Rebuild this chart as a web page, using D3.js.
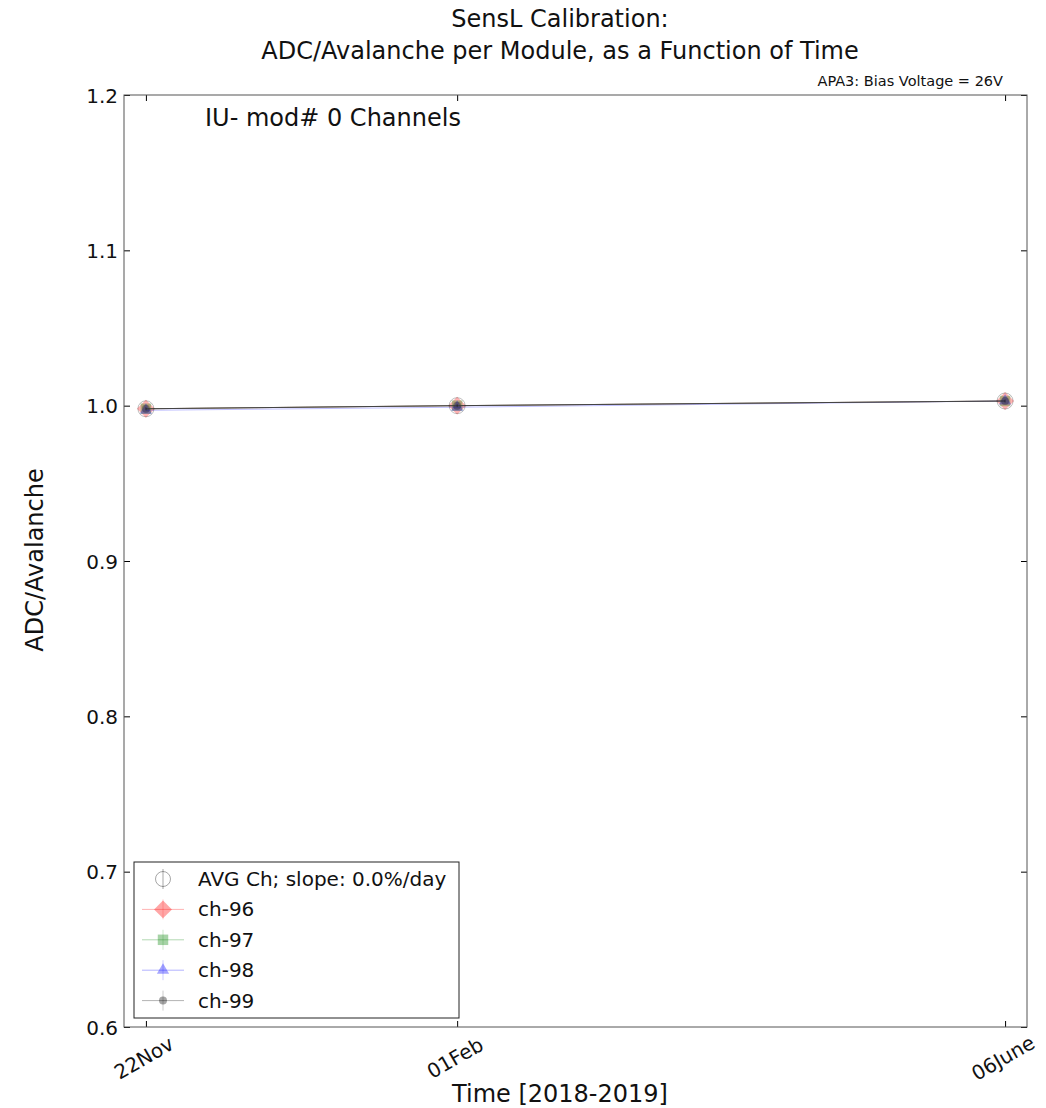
<!DOCTYPE html>
<html>
<head>
<meta charset="utf-8">
<script src="https://cdn.jsdelivr.net/npm/d3@7"></script>
<style>
  body { margin: 0; background: #fff; }
  svg text { font-family: "DejaVu Sans", sans-serif; fill: #111; }
</style>
</head>
<body>
<div id="chart"></div>
<script>
// measurement dates and tick labels
const dates = ["2018-11-22", "2019-02-01", "2019-06-06"];
const tickLabels = ["22Nov", "01Feb", "06June"];
const yTicks = [0.6, 0.7, 0.8, 0.9, 1.0, 1.1, 1.2];

// per-channel ADC/Avalanche values
const channels = ["ch-96", "ch-97", "ch-98", "ch-99"];
const ch96 = [0.998, 1.000, 1.003];
const ch97 = [0.998, 1.000, 1.003];
const ch98 = [0.997, 0.999, 1.003];
const ch99 = [0.998, 1.000, 1.003];
const avg = [0.998, 1.000, 1.003];
const avgErr = [0.001, 0.001, 0.001];

const width = 1046, height = 1108;
const margin = { top: 95, right: 19, bottom: 81, left: 124 };
const W = width - margin.left - margin.right;
const H = height - margin.top - margin.bottom;

const parse = d3.timeParse("%Y-%m-%d");
const xDates = dates.map(parse);

const svg = d3.select("#chart").append("svg")
  .attr("width", width).attr("height", height);

const g = svg.append("g")
  .attr("transform", `translate(${margin.left},${margin.top})`);

const x = d3.scaleTime()
  .domain([parse("2018-11-17"), parse("2019-06-11")])
  .range([0, W]);
const y = d3.scaleLinear().domain([0.6, 1.2]).range([H, 0]);

// axes (ticks pointing inwards, mirrored on both sides)
const fmt = d3.format(".1f");
const yLeft = g.append("g")
  .call(d3.axisLeft(y).tickValues(yTicks).tickFormat(fmt).tickSizeInner(-6).tickSizeOuter(0).tickPadding(6));
const yRight = g.append("g").attr("transform", `translate(${W},0)`)
  .call(d3.axisRight(y).tickValues(yTicks).tickSizeInner(-6).tickSizeOuter(0).tickFormat(""));
const xBottom = g.append("g").attr("transform", `translate(0,${H})`)
  .call(d3.axisBottom(x).tickValues(xDates).tickFormat((d, i) => tickLabels[i]).tickSizeInner(-6).tickSizeOuter(0));
const xTop = g.append("g")
  .call(d3.axisTop(x).tickValues(xDates).tickFormat("").tickSizeInner(-6).tickSizeOuter(0));

[yLeft, yRight, xBottom, xTop].forEach(a => {
  a.select(".domain").remove();
  a.selectAll("line").attr("stroke", "#000").attr("stroke-width", 1);
});
yLeft.selectAll("text").attr("font-size", 20).attr("dy", "0.35em").attr("fill", "#111");
// rotated date labels, centred under their ticks
xBottom.selectAll("text")
  .attr("font-size", 20)
  .attr("fill", "#111")
  .attr("y", null).attr("dy", null)
  .attr("text-anchor", "middle")
  .attr("transform", "translate(1,37) rotate(-30)");

// frame
g.append("rect").attr("width", W).attr("height", H)
  .attr("fill", "none").attr("stroke", "#555").attr("stroke-width", 1);

// marker shapes per channel
const diamond = {
  draw(ctx, size) {
    const r = Math.sqrt(size / 2);
    ctx.moveTo(0, -r); ctx.lineTo(r, 0); ctx.lineTo(0, r); ctx.lineTo(-r, 0); ctx.closePath();
  }
};
const series = [
  { name: channels[0], vals: ch96, color: "red", sym: diamond, size: 160 },
  { name: channels[1], vals: ch97, color: "green", sym: d3.symbolSquare, size: 110 },
  { name: channels[2], vals: ch98, color: "blue", sym: d3.symbolTriangle, size: 65 },
  { name: channels[3], vals: ch99, color: "black", sym: d3.symbolCircle, size: 50 }
];

const line = d3.line().x((d, i) => x(xDates[i])).y(d => y(d));

series.forEach(s => {
  g.append("path").datum(s.vals).attr("d", line)
    .attr("fill", "none").attr("stroke", s.color).attr("stroke-opacity", 0.25).attr("stroke-width", 1);
  g.selectAll(null).data(s.vals).enter().append("path")
    .attr("transform", (d, i) => `translate(${x(xDates[i])},${y(d)})`)
    .attr("d", d3.symbol().type(s.sym).size(s.size))
    .attr("fill", s.color).attr("fill-opacity", 0.3).attr("stroke", "none");
});

// average line
g.append("path").datum(avg).attr("d", line)
  .attr("fill", "none").attr("stroke", "#444").attr("stroke-width", 1);

// average points, hollow circle with error bar
g.selectAll(null).data(avg).enter().append("line")
  .attr("x1", (d, i) => x(xDates[i])).attr("x2", (d, i) => x(xDates[i]))
  .attr("y1", (d, i) => y(d + avgErr[i])).attr("y2", (d, i) => y(d - avgErr[i]))
  .attr("stroke", "#000").attr("stroke-opacity", 0.4);
g.selectAll(null).data(avg).enter().append("circle")
  .attr("cx", (d, i) => x(xDates[i])).attr("cy", d => y(d)).attr("r", 8)
  .attr("fill", "none").attr("stroke", "#000").attr("stroke-opacity", 0.25);

// legend
const leg = svg.append("g").attr("transform", "translate(134,862)");
leg.append("rect").attr("width", 325).attr("height", 156)
  .attr("fill", "#fff").attr("stroke", "#222").attr("stroke-width", 1);
const rowY = i => 17 + i * 30.4;
const mx = 29;

// AVG entry
leg.append("circle").attr("cx", mx).attr("cy", rowY(0)).attr("r", 7.5)
  .attr("fill", "none").attr("stroke", "#000").attr("stroke-opacity", 0.35);
leg.append("line").attr("x1", mx).attr("x2", mx).attr("y1", rowY(0) - 10).attr("y2", rowY(0) + 10)
  .attr("stroke", "#000").attr("stroke-opacity", 0.35);
leg.append("text").attr("x", 64).attr("y", rowY(0)).attr("dy", "0.35em")
  .attr("font-size", 20).text("AVG Ch; slope: 0.0%/day");

series.forEach((s, i) => {
  const cy = rowY(i + 1);
  leg.append("line").attr("x1", mx - 21).attr("x2", mx + 21).attr("y1", cy).attr("y2", cy)
    .attr("stroke", s.color).attr("stroke-opacity", 0.3);
  leg.append("line").attr("x1", mx).attr("x2", mx).attr("y1", cy - 10).attr("y2", cy + 10)
    .attr("stroke", s.color).attr("stroke-opacity", 0.2);
  leg.append("path").attr("transform", `translate(${mx},${cy})`)
    .attr("d", d3.symbol().type(s.sym).size(s.size))
    .attr("fill", s.color).attr("fill-opacity", 0.35);
  leg.append("text").attr("x", 64).attr("y", cy).attr("dy", "0.35em")
    .attr("font-size", 20).text(s.name);
});

// texts
svg.append("text").attr("x", 560).attr("y", 27).attr("text-anchor", "middle")
  .attr("font-size", 24).text("SensL Calibration:");
svg.append("text").attr("x", 560).attr("y", 59).attr("text-anchor", "middle")
  .attr("font-size", 24).text("ADC/Avalanche per Module, as a Function of Time");
svg.append("text").attr("x", 1003).attr("y", 86).attr("text-anchor", "end")
  .attr("font-size", 14.5).text("APA3: Bias Voltage = 26V");
svg.append("text").attr("x", 205).attr("y", 126)
  .attr("font-size", 24).text("IU- mod# 0 Channels");
svg.append("text").attr("transform", "translate(43,560) rotate(-90)")
  .attr("text-anchor", "middle").attr("font-size", 24).text("ADC/Avalanche");
svg.append("text").attr("x", 560).attr("y", 1102).attr("text-anchor", "middle")
  .attr("font-size", 24).text("Time [2018-2019]");
</script>
</body>
</html>
